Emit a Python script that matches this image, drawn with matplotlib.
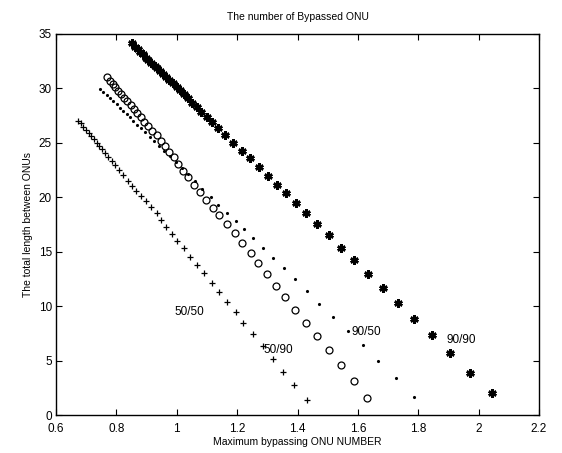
import matplotlib

matplotlib.use("Agg")
import matplotlib.pyplot as plt

# 50/50 series (plus markers)
plus_x = [0.674, 0.682, 0.690, 0.699, 0.708, 0.717, 0.726, 0.735, 0.743, 0.752,
          0.763, 0.773, 0.785, 0.796, 0.809, 0.823, 0.838, 0.851, 0.865, 0.882,
          0.898, 0.915, 0.934, 0.948, 0.964, 0.983, 1.002, 1.024, 1.044, 1.066,
          1.090, 1.116, 1.141, 1.165, 1.195, 1.221, 1.252, 1.285, 1.318, 1.353,
          1.388, 1.430]
plus_y = [27.03, 26.79, 26.48, 26.18, 25.93, 25.63, 25.33, 25.01, 24.71, 24.41,
          24.09, 23.73, 23.36, 22.97, 22.51, 22.05, 21.52, 21.04, 20.58, 20.12,
          19.66, 19.13, 18.52, 17.91, 17.24, 16.63, 16.01, 15.31, 14.54, 13.78,
          13.02, 12.15, 11.27, 10.35, 9.43, 8.42, 7.41, 6.37, 5.17, 3.98,
          2.72, 1.35]

# circle series
circ_x = [0.768, 0.779, 0.788, 0.796, 0.806, 0.816, 0.826, 0.836, 0.847, 0.858,
          0.869, 0.881, 0.893, 0.906, 0.919, 0.934, 0.947, 0.961, 0.974, 0.991,
          1.005, 1.022, 1.038, 1.058, 1.077, 1.097, 1.119, 1.141, 1.165, 1.193,
          1.215, 1.245, 1.269, 1.298, 1.328, 1.360, 1.393, 1.428, 1.464, 1.503,
          1.543, 1.587, 1.631]
circ_y = [31.08, 30.71, 30.41, 30.10, 29.79, 29.46, 29.15, 28.82, 28.48, 28.08,
          27.71, 27.35, 26.94, 26.55, 26.12, 25.69, 25.20, 24.71, 24.19, 23.67,
          23.06, 22.44, 21.84, 21.13, 20.46, 19.75, 19.04, 18.34, 17.55, 16.69,
          15.77, 14.85, 13.93, 12.95, 11.88, 10.81, 9.65, 8.48, 7.26, 5.94,
          4.57, 3.12, 1.59]

# 90/50 series (dots)
dot_x = [0.746, 0.757, 0.768, 0.779, 0.790, 0.801, 0.812, 0.823, 0.834, 0.845,
         0.856, 0.869, 0.881, 0.895, 0.910, 0.926, 0.942, 0.959, 0.977, 0.996,
         1.016, 1.037, 1.059, 1.085, 1.112, 1.138, 1.165, 1.195, 1.224, 1.252,
         1.285, 1.318, 1.354, 1.391, 1.430, 1.472, 1.517, 1.566, 1.616, 1.668,
         1.726, 1.787]
dot_y = [29.92, 29.64, 29.37, 29.09, 28.82, 28.54, 28.23, 27.95, 27.62, 27.35,
         27.03, 26.64, 26.34, 25.98, 25.58, 25.15, 24.70, 24.24, 23.75, 23.23,
         22.69, 22.12, 21.51, 20.80, 20.00, 19.29, 18.58, 17.82, 17.09, 16.23,
         15.37, 14.45, 13.47, 12.47, 11.39, 10.22, 9.03, 7.72, 6.40, 4.93,
         3.40, 1.68]

# 90/90 series (stars)
star_x = [0.851, 0.862, 0.871, 0.878, 0.887, 0.898, 0.906, 0.916, 0.927, 0.934,
          0.945, 0.953, 0.964, 0.975, 0.989, 1.000, 1.011, 1.024, 1.037, 1.051,
          1.066, 1.081, 1.099, 1.118, 1.137, 1.161, 1.185, 1.215, 1.244, 1.273,
          1.302, 1.331, 1.361, 1.394, 1.428, 1.466, 1.503, 1.545, 1.588, 1.634,
          1.682, 1.733, 1.786, 1.846, 1.905, 1.971, 2.043]
star_y = [34.14, 33.83, 33.59, 33.37, 33.13, 32.82, 32.61, 32.36, 32.06, 31.85,
          31.60, 31.32, 31.08, 30.77, 30.47, 30.16, 29.85, 29.49, 29.09, 28.69,
          28.26, 27.86, 27.40, 26.91, 26.36, 25.72, 25.01, 24.28, 23.58, 22.81,
          21.98, 21.15, 20.36, 19.50, 18.53, 17.52, 16.51, 15.37, 14.24, 12.98,
          11.67, 10.29, 8.85, 7.32, 5.67, 3.89, 1.99]

label_text = ["50/50", "50/90", "90/50", "90/90"]
label_x = [0.992, 1.287, 1.578, 1.892]
label_y = [9.5, 6.0, 7.6, 6.9]

plt.rcParams["font.family"] = ["Liberation Sans", "DejaVu Sans"]

fig = plt.figure(figsize=(5.62, 4.53), dpi=100)
ax = fig.add_axes([56 / 562, 38 / 453, 483 / 562, 381 / 453])

ax.plot(plus_x, plus_y, "k+", markersize=5, markeredgewidth=0.9)
ax.plot(circ_x, circ_y, "o", markerfacecolor="none", markeredgecolor="k",
        markersize=5, markeredgewidth=0.9)
ax.plot(dot_x, dot_y, "k.", markersize=2.5)
# matlab-style asterisk, drawn heavy like the scanned original
ax.plot(star_x, star_y, marker=(6, 2, 0), linestyle="none", color="k",
        markersize=6, markeredgewidth=1.8)

for t, x, y in zip(label_text, label_x, label_y):
    ax.text(x, y, t, fontsize=8.5, va="center", ha="left")

ax.set_xlim(0.6, 2.2)
ax.set_ylim(0, 35)
ax.set_xticks([0.6, 0.8, 1.0, 1.2, 1.4, 1.6, 1.8, 2.0, 2.2])
ax.set_xticklabels(["0.6", "0.8", "1", "1.2", "1.4", "1.6", "1.8", "2", "2.2"])
ax.set_yticks(range(0, 36, 5))
ax.tick_params(direction="in", top=True, right=True, labelsize=8.5, length=4)
ax.tick_params(axis="x", pad=6)
ax.tick_params(axis="y", pad=3)
for s in ax.spines.values():
    s.set_linewidth(1.0)

ax.set_title("The number of Bypassed ONU", fontsize=7.5, pad=10)
ax.set_xlabel("Maximum bypassing ONU NUMBER", fontsize=7.5, labelpad=1)
ax.set_ylabel("The total length between ONUs", fontsize=7.5, labelpad=4)

fig.savefig("out.png", dpi=100)
